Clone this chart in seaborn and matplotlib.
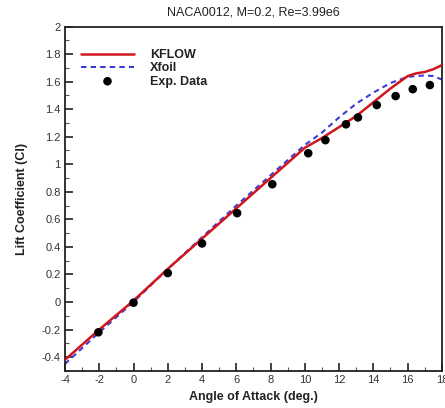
import matplotlib
matplotlib.use("Agg")
import matplotlib.pyplot as plt
import matplotlib.ticker as mticker
import seaborn as sns
import pandas as pd

# Data
kflow_alpha = [-4, -2, 0, 2, 4, 6, 8, 9, 10, 11, 12, 13, 14, 15, 16, 16.5, 17, 17.5, 18]
kflow_cl = [-0.42, -0.20, 0.01, 0.24, 0.46, 0.68, 0.90, 1.01, 1.12, 1.19, 1.27, 1.35, 1.45, 1.55, 1.64, 1.66, 1.67, 1.69, 1.72]
xfoil_alpha = [-4, -2, 0, 2, 4, 6, 8, 10, 11, 12, 13, 14, 15, 16, 17, 17.5, 18]
xfoil_cl = [-0.45, -0.22, 0.0, 0.24, 0.47, 0.70, 0.92, 1.14, 1.23, 1.34, 1.44, 1.52, 1.59, 1.635, 1.645, 1.64, 1.615]
exp_alpha = [-2.05, 0.0, 2.0, 4.0, 6.05, 8.1, 10.2, 11.2, 12.4, 13.1, 14.2, 15.3, 16.3, 17.3]
exp_cl = [-0.22, -0.005, 0.21, 0.425, 0.645, 0.855, 1.08, 1.175, 1.29, 1.34, 1.43, 1.495, 1.545, 1.575]

title = "NACA0012, M=0.2, Re=3.99e6"
xlabel = "Angle of Attack (deg.)"
ylabel = "Lift Coefficient (Cl)"

sns.set_style("white")
plt.rcParams["font.family"] = ["Liberation Sans", "DejaVu Sans"]

fig = plt.figure(figsize=(4.45, 4.08), dpi=100)
ax = fig.add_axes([0.146, 0.091, 0.847, 0.844])

df_k = pd.DataFrame({"a": kflow_alpha, "cl": kflow_cl})
df_x = pd.DataFrame({"a": xfoil_alpha, "cl": xfoil_cl})
df_e = pd.DataFrame({"a": exp_alpha, "cl": exp_cl})

sns.lineplot(data=df_k, x="a", y="cl", ax=ax, color="#d0161c", lw=1.8, label="KFLOW", zorder=3)
sns.lineplot(data=df_x, x="a", y="cl", ax=ax, color="#3a3ad8", lw=1.5, label="Xfoil", zorder=2)
ax.lines[1].set_linestyle((0, (2.6, 2.0)))
sns.scatterplot(data=df_e, x="a", y="cl", ax=ax, color="black", s=38, edgecolor="none",
                label="Exp. Data", zorder=4)

ax.set_xlim(-4, 18)
ax.set_ylim(-0.5, 2.0)
ax.xaxis.set_major_locator(mticker.MultipleLocator(2))
ax.xaxis.set_minor_locator(mticker.MultipleLocator(1))
ax.yaxis.set_major_locator(mticker.MultipleLocator(0.2))
ax.yaxis.set_minor_locator(mticker.MultipleLocator(0.1))
fmt = mticker.FuncFormatter(lambda v, p: ("%g" % round(v, 2)) if abs(v) > 1e-9 else "0")
ax.xaxis.set_major_formatter(fmt)
ax.yaxis.set_major_formatter(fmt)
ax.tick_params(which="major", direction="in", length=6, width=1.2, labelsize=8,
               labelcolor="#333333", color="#222222", pad=3)
ax.tick_params(which="minor", direction="in", length=3, width=0.8, color="#555555")
ax.tick_params(bottom=True, left=True, top=False, right=False, which="both")
for s in ax.spines.values():
    s.set_color("#222222")
    s.set_linewidth(1.3)

ax.set_title(title, fontsize=9, color="#222222", pad=8)
ax.set_xlabel(xlabel, fontsize=9, fontweight="bold", color="#222222", labelpad=4)
ax.set_ylabel(ylabel, fontsize=9, fontweight="bold", color="#222222", labelpad=10)

leg = ax.legend(loc="upper left", frameon=False, fontsize=9, handlelength=4.2,
                borderaxespad=0.3, labelspacing=0.1, handletextpad=1.3,
                bbox_to_anchor=(0.02, 0.96))
for t in leg.get_texts():
    t.set_fontweight("bold")
    t.set_color("#222222")

fig.savefig("out.png", dpi=100)
